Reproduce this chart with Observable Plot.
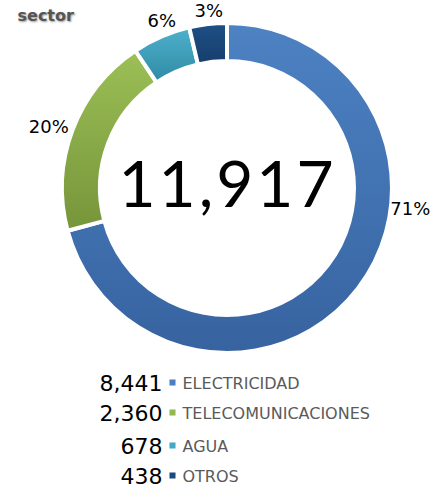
<!DOCTYPE html>
<html>
<head>
<meta charset="utf-8">
<script src="https://cdn.jsdelivr.net/npm/d3@7"></script>
<script src="https://cdn.jsdelivr.net/npm/@observablehq/plot@0.6"></script>
<style>
  html, body { margin: 0; padding: 0; background: #fff; }
  #chart { width: 434px; height: 490px; }
</style>
</head>
<body>
<div id="chart"></div>
<script>
// ---- data ----
const title = "sector";
const categories = ["ELECTRICIDAD", "TELECOMUNICACIONES", "AGUA", "OTROS"];
const values = [8441, 2360, 678, 438];
const percentLabels = ["71%", "20%", "6%", "3%"];
const totalLabel = "11,917";

// ---- style / layout ----
const colorsTop = ["#4d82c3", "#9cbf56", "#4fb1cc", "#1f4f86"];
const colorsBottom = ["#3763a0", "#76953a", "#2f8aa5", "#163e6c"];
const legendColors = ["#4a7fc0", "#93b850", "#43a8c4", "#1b4a80"];
const cx = 227, cy = 188, rOuter = 165, rInner = 127;
const labelAngle = [96.5, 289, 338.6, 354];   // degrees clockwise from top
const labelRadius = [184, 189, 180, 178];
const legendRowY = [383, 413, 446, 476];

const total = d3.sum(values);
const table = categories.map((c, i) => ({
  category: c, value: values[i], pct: percentLabels[i], i
}));
let acc = 0;
for (const d of table) {
  d.a0 = acc / total * 2 * Math.PI;
  acc += d.value;
  d.a1 = acc / total * 2 * Math.PI;
  const a = labelAngle[d.i] * Math.PI / 180;
  d.lx = cx + labelRadius[d.i] * Math.sin(a);
  d.ly = cy - labelRadius[d.i] * Math.cos(a);
  d.ry = legendRowY[d.i];
}

const NS = "http://www.w3.org/2000/svg";
function donutMark(index, scales, values, dimensions, context) {
  const g = document.createElementNS(NS, "g");
  const defs = document.createElementNS(NS, "defs");
  table.forEach((d, i) => {
    const lg = document.createElementNS(NS, "linearGradient");
    lg.setAttribute("id", "grad" + i);
    lg.setAttribute("x1", "0"); lg.setAttribute("y1", "0");
    lg.setAttribute("x2", "0"); lg.setAttribute("y2", "1");
    const s0 = document.createElementNS(NS, "stop");
    s0.setAttribute("offset", "0"); s0.setAttribute("stop-color", colorsTop[i]);
    const s1 = document.createElementNS(NS, "stop");
    s1.setAttribute("offset", "1"); s1.setAttribute("stop-color", colorsBottom[i]);
    lg.appendChild(s0); lg.appendChild(s1);
    defs.appendChild(lg);
  });
  g.appendChild(defs);
  const ox = scales.x(cx), oy = scales.y(cy);
  const arc = d3.arc().innerRadius(rInner).outerRadius(rOuter);
  table.forEach((d, i) => {
    const p = document.createElementNS(NS, "path");
    p.setAttribute("d", arc({startAngle: d.a0, endAngle: d.a1}));
    p.setAttribute("transform", `translate(${ox},${oy})`);
    p.setAttribute("fill", `url(#grad${i})`);
    p.setAttribute("stroke", "#fff");
    p.setAttribute("stroke-width", "4");
    p.setAttribute("stroke-linejoin", "miter");
    g.appendChild(p);
  });
  return g;
}

const chart = Plot.plot({
  width: 434,
  height: 490,
  margin: 0,
  x: {domain: [0, 434], range: [0, 434], axis: null},
  y: {domain: [0, 490], range: [0, 490], axis: null},
  style: {fontFamily: "DejaVu Sans", background: "#fff"},
  marks: [
    donutMark,
    // title
    Plot.text([title], {x: () => 17, y: () => 15, text: d => d, textAnchor: "start",
      fontSize: 16, fontWeight: "bold", fill: "#555555"}),
    // total in centre
    Plot.text([totalLabel], {x: () => cx, y: () => cy - 2, text: d => d,
      fontSize: 64, fontFamily: "Lato", fontWeight: 400, fill: "#000"}),
    // percent labels
    Plot.text(table, {x: "lx", y: "ly", text: "pct", fontSize: 18, fill: "#000"}),
    // legend values
    Plot.text(table, {x: () => 162, y: "ry", text: d => d3.format(",")(d.value),
      textAnchor: "end", fontSize: 22, fill: "#000"}),
    // legend swatches
    Plot.dot(table, {x: () => 172, y: d => d.ry - 1, symbol: "square", r: 3.4,
      fill: (d) => legendColors[d.i], stroke: "none"}),
    // legend labels
    Plot.text(table, {x: () => 182, y: d => d.ry, text: "category",
      textAnchor: "start", fontSize: 16, fill: "#5a5a5a"})
  ]
});
// text-level styling Plot has no option for
d3.select(chart).selectAll("text").each(function() {
  const t = this.textContent;
  if (t === totalLabel) this.setAttribute("letter-spacing", "3");
  if (t === title) this.setAttribute("style", "text-shadow: 1px 1px 2px rgba(0,0,0,0.4)");
});
document.getElementById("chart").appendChild(chart);
</script>
</body>
</html>
